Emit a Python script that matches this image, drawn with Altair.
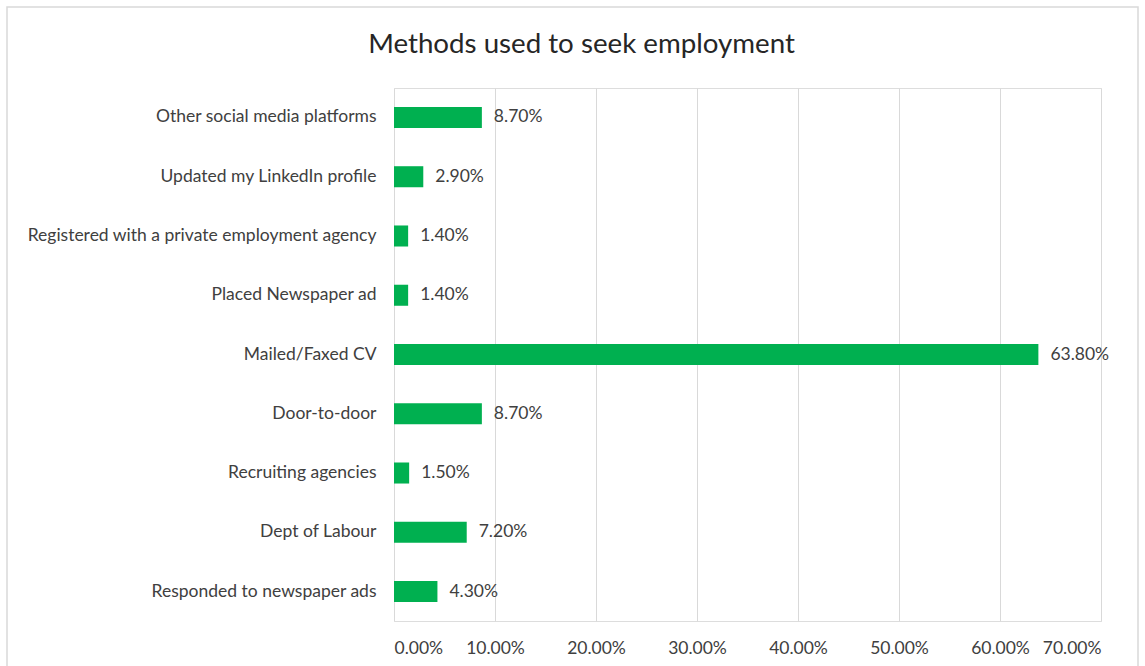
import altair as alt
import pandas as pd

categories = [
    "Other social media platforms",
    "Updated my LinkedIn profile",
    "Registered with a private employment agency",
    "Placed Newspaper ad",
    "Mailed/Faxed CV",
    "Door-to-door",
    "Recruiting agencies",
    "Dept of Labour",
    "Responded to newspaper ads",
]
values = [0.087, 0.029, 0.014, 0.014, 0.638, 0.087, 0.015, 0.072, 0.043]
x_ticks = [0.0, 0.1, 0.2, 0.3, 0.4, 0.5, 0.6, 0.7]

df = pd.DataFrame({"method": categories, "share": values})

FONT = "Lato"
TXT = "#404040"
GREEN = "#00B050"
FS = 17.5

x_enc = alt.X(
    "share:Q",
    scale=alt.Scale(domain=[0, 0.7], nice=False),
    axis=alt.Axis(
        values=x_ticks, format=".2%", title=None, grid=True, gridColor="#d9d9d9",
        domain=False, ticks=False, labelPadding=18, labelFontSize=FS,
        labelColor=TXT, labelFont=FONT,
    ),
)
y_enc = alt.Y(
    "method:N",
    sort=categories,
    scale=alt.Scale(paddingInner=0.645, paddingOuter=0.32),
    axis=alt.Axis(
        title=None, domain=False, ticks=False, labelPadding=18, labelFontSize=FS,
        labelColor=TXT, labelFont=FONT, labelLimit=400,
    ),
)

bars = alt.Chart(df).mark_bar(color=GREEN).encode(x=x_enc, y=y_enc)
labels = alt.Chart(df).mark_text(
    align="left", baseline="middle", dx=12, fontSize=FS, font=FONT, color=TXT
).encode(
    x=alt.X("share:Q"),
    y=alt.Y("method:N", sort=categories),
    text=alt.Text("share:Q", format=".2%"),
)
frame = alt.Chart(pd.DataFrame({"a": [0]})).mark_rect(
    fill=None, stroke="#d9d9d9", strokeWidth=1.5
).encode(
    x=alt.value(-387), x2=alt.value(744), y=alt.value(-81), y2=alt.value(600)
)

chart = alt.layer(frame, bars, labels).properties(
    width=707,
    height=533,
    autosize=alt.AutoSizeParams(type="none"),
    padding={"left": 394, "top": 88, "right": 44, "bottom": 45},
    title=alt.TitleParams(
        "Methods used to seek employment", fontSize=27.7, font=FONT, color="#262626",
        fontWeight="normal", anchor="middle", dx=-166, offset=-52.5,
    ),
).configure_view(stroke=None).configure(background="white")

chart.save("out.html", embed_options={"renderer": "svg", "actions": False})
